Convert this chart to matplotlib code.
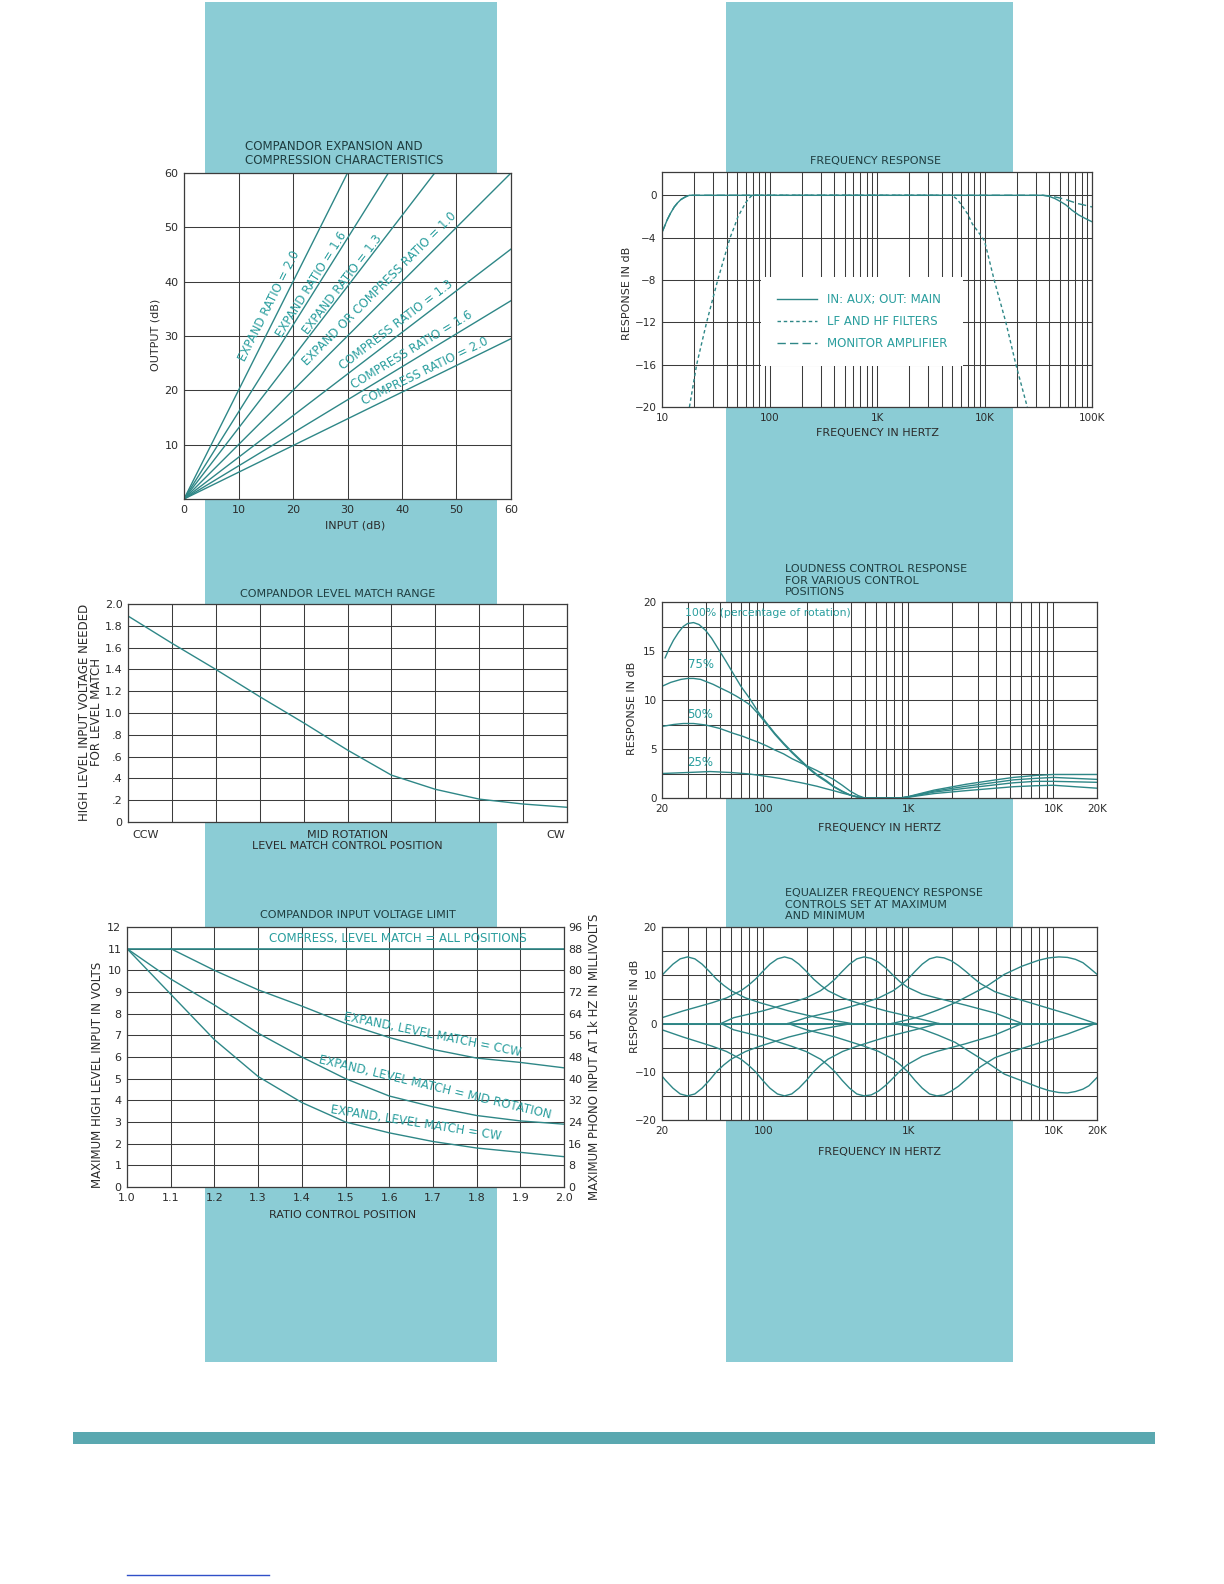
import numpy as np
import matplotlib
matplotlib.use("Agg")
import matplotlib.pyplot as plt
import matplotlib.ticker as mticker
from matplotlib.patches import Rectangle
from matplotlib.lines import Line2D

# ---------------- DATA ----------------
# Panel 1: compandor expansion / compression (end points of straight lines from origin)
p1_labels = ["EXPAND RATIO = 2.0", "EXPAND RATIO = 1.6", "EXPAND RATIO = 1.3",
             "EXPAND OR COMPRESS RATIO = 1.0", "COMPRESS RATIO = 1.3",
             "COMPRESS RATIO = 1.6", "COMPRESS RATIO = 2.0"]
p1_end_in = [30, 37.5, 46, 60, 60, 60, 60]
p1_end_out = [60, 60, 60, 60, 46, 36.5, 29.5]
p1_ticks = [0, 10, 20, 30, 40, 50, 60]

# Panel 2: frequency response
p2_main_f = [10, 10.5, 11.2, 12, 13, 14, 15, 16.5, 18, 35000, 40000, 45000, 50000, 57000, 65000, 75000, 87000, 100000]
p2_main_g = [-3.5, -3.0, -2.3, -1.7, -1.1, -0.7, -0.4, -0.15, 0.0, 0.0, -0.1, -0.3, -0.55, -0.9, -1.4, -1.85, -2.2, -2.5]
p2_filt_f = [18, 21, 26, 33, 43, 47, 51, 55, 60, 65, 69, 5000, 5600, 6200, 7000, 7700, 8800, 10000, 11000, 12300, 15800, 19600, 25000]
p2_filt_g = [-20, -16, -12, -8, -4, -3, -2, -1.4, -0.7, -0.25, 0, 0, -0.4, -1.0, -1.8, -2.7, -3.5, -4.3, -6.0, -8, -12, -16, -20]
p2_mon_f = [10, 10.5, 11.2, 12, 13, 14, 15, 16.5, 18, 35000, 40000, 45000, 50000, 57000, 65000, 75000, 87000, 100000]
p2_mon_g = [-3.5, -3.0, -2.3, -1.7, -1.1, -0.7, -0.4, -0.15, 0.0, 0.0, -0.05, -0.15, -0.25, -0.4, -0.6, -0.8, -0.95, -1.1]
p2_legend = ["IN: AUX; OUT: MAIN", "LF AND HF FILTERS", "MONITOR AMPLIFIER"]
p2_xticks = [10, 100, 1000, 10000, 100000]
p2_xticklabels = ["10", "100", "1K", "10K", "100K"]
p2_yticks = [0, -4, -8, -12, -16, -20]
p2_yticklabels = ["0", "\u22124", "\u22128", "\u221212", "\u221216", "\u221220"]

# Panel 3: level match range
p3_pos = [0, 1, 2, 3, 4, 5, 6, 7, 8, 9, 10]
p3_volt = [1.89, 1.64, 1.40, 1.15, 0.91, 0.66, 0.43, 0.30, 0.21, 0.165, 0.135]
p3_cat_labels = ["CCW", "MID ROTATION", "CW"]
p3_cat_pos = [0.4, 5, 9.75]
p3_yticks = [0, 0.2, 0.4, 0.6, 0.8, 1.0, 1.2, 1.4, 1.6, 1.8, 2.0]
p3_yticklabels = ["0", ".2", ".4", ".6", ".8", "1.0", "1.2", "1.4", "1.6", "1.8", "2.0"]

# Panel 4: loudness control response
p4_f100 = [21, 22.5, 24, 26, 28, 30, 33, 36, 40, 44, 48, 55, 62, 70, 81, 92, 106, 120, 138, 158, 180, 205, 234, 270, 305, 350, 397, 450, 500, 880, 1000, 1500, 2500, 4000, 5300, 7500, 10000, 20000]
p4_g100 = [14.3, 15.3, 16.1, 16.9, 17.5, 17.8, 17.9, 17.7, 17.1, 16.3, 15.4, 14.0, 12.7, 11.4, 10.1, 8.8, 7.6, 6.6, 5.6, 4.7, 3.9, 3.1, 2.4, 1.8, 1.2, 0.7, 0.3, 0.08, 0, 0, 0.15, 0.8, 1.4, 1.85, 2.1, 2.3, 2.4, 2.4]
p4_f75 = [20, 23, 27, 30, 33, 37, 40, 45, 51, 58, 65, 72, 81, 92, 106, 120, 138, 158, 180, 205, 234, 270, 305, 350, 397, 450, 500, 880, 1000, 1500, 2500, 4000, 5300, 7500, 10000, 20000]
p4_g75 = [11.4, 11.8, 12.1, 12.2, 12.2, 12.1, 11.9, 11.6, 11.2, 10.8, 10.4, 10.0, 9.5, 8.6, 7.5, 6.5, 5.5, 4.6, 3.8, 3.0, 2.3, 1.7, 1.15, 0.65, 0.3, 0.08, 0, 0, 0.12, 0.7, 1.2, 1.6, 1.85, 2.0, 2.1, 1.9]
p4_f50 = [20, 24, 28, 33, 40, 50, 62, 72, 81, 92, 106, 120, 138, 158, 180, 205, 234, 270, 305, 350, 397, 450, 500, 880, 1000, 1500, 2500, 4000, 5300, 7500, 10000, 20000]
p4_g50 = [7.3, 7.5, 7.6, 7.6, 7.45, 7.1, 6.6, 6.3, 6.0, 5.7, 5.3, 4.9, 4.5, 4.0, 3.6, 3.2, 2.8, 2.3, 1.9, 1.3, 0.7, 0.25, 0, 0, 0.1, 0.6, 1.0, 1.35, 1.55, 1.7, 1.7, 1.6]
p4_f25 = [20, 30, 43, 60, 80, 106, 130, 150, 190, 234, 270, 305, 350, 397, 450, 500, 880, 1000, 1500, 2500, 4000, 5300, 7500, 10000, 20000]
p4_g25 = [2.5, 2.6, 2.7, 2.6, 2.45, 2.2, 2.0, 1.8, 1.5, 1.2, 0.95, 0.75, 0.5, 0.3, 0.1, 0, 0, 0.08, 0.45, 0.75, 1.0, 1.15, 1.25, 1.3, 1.0]
p4_curve_labels = ["100% (percentage of rotation)", "75%", "50%", "25%"]
p4_xticks = [20, 100, 1000, 10000, 20000]
p4_xticklabels = ["20", "100", "1K", "10K", "20K"]

# Panel 5: compandor input voltage limit
p5_x = [1.0, 1.1, 1.2, 1.3, 1.4, 1.5, 1.6, 1.7, 1.8, 1.9, 2.0]
p5_compress = [11, 11, 11, 11, 11, 11, 11, 11, 11, 11, 11]
p5_ccw_x = [1.1, 1.2, 1.3, 1.4, 1.5, 1.6, 1.7, 1.8, 1.9, 2.0]
p5_ccw = [11.0, 10.0, 9.1, 8.35, 7.55, 6.9, 6.35, 5.95, 5.75, 5.5]
p5_mid = [11.0, 9.6, 8.4, 7.1, 6.0, 5.0, 4.2, 3.7, 3.3, 3.05, 2.9]
p5_cw = [11.0, 8.9, 6.8, 5.1, 3.9, 3.0, 2.5, 2.1, 1.8, 1.6, 1.4]
p5_labels = ["COMPRESS, LEVEL MATCH = ALL POSITIONS", "EXPAND, LEVEL MATCH = CCW",
             "EXPAND, LEVEL MATCH = MID ROTATION", "EXPAND, LEVEL MATCH = CW"]
p5_xticklabels = ["1.0", "1.1", "1.2", "1.3", "1.4", "1.5", "1.6", "1.7", "1.8", "1.9", "2.0"]
p5_right_ticks = [0, 8, 16, 24, 32, 40, 48, 56, 64, 72, 80, 88, 96]

# Panel 6: equalizer response (boost and cut per band)
p6_b1_f = [20, 21.2, 23.8, 26.7, 30, 33.7, 37.8, 42.4, 47.5, 53.3, 59.9, 75.4, 94.9, 150, 238, 406]
p6_b1_up = [10.0, 10.8, 12.3, 13.4, 13.8, 13.4, 12.3, 10.8, 9.2, 7.9, 6.8, 5.3, 4.3, 2.6, 1.2, 0]
p6_b1_dn = [-10.9, -11.8, -13.4, -14.6, -15.0, -14.6, -13.4, -11.8, -10.0, -8.6, -7.4, -5.8, -4.7, -2.8, -1.3, 0]
p6_b2_f = [20, 27.9, 44.3, 55.7, 70.1, 78.7, 88.3, 99.1, 111, 125, 140, 157, 176, 198, 222, 249, 279, 352, 443, 702, 1112, 1620]
p6_b2_up = [1.2, 2.6, 4.3, 5.3, 6.8, 7.9, 9.2, 10.8, 12.3, 13.4, 13.8, 13.4, 12.3, 10.8, 9.2, 7.9, 6.8, 5.3, 4.3, 2.6, 1.2, 0]
p6_b2_dn = [-1.3, -2.8, -4.7, -5.8, -7.4, -8.6, -10.0, -11.8, -13.4, -14.6, -15.0, -14.6, -13.4, -11.8, -10.0, -8.6, -7.4, -5.8, -4.7, -2.8, -1.3, 0]
p6_b3_f = [51, 62.4, 98.8, 156, 197, 248, 278, 312, 350, 393, 441, 495, 555, 623, 699, 785, 880, 988, 1243, 1565, 2481, 3932, 6100]
p6_b3_up = [0, 1.2, 2.6, 4.3, 5.3, 6.8, 7.9, 9.2, 10.8, 12.3, 13.4, 13.8, 13.5, 12.7, 11.5, 10.0, 8.6, 7.5, 6.1, 5.3, 3.8, 2.2, 0]
p6_b3_dn = [0, -1.3, -2.8, -4.7, -5.8, -7.4, -8.6, -10.0, -11.8, -13.4, -14.6, -15.0, -14.8, -14.0, -12.8, -11.3, -9.8, -8.5, -6.8, -5.8, -4.2, -2.4, 0]
p6_b4_f = [148, 198, 313, 496, 625, 787, 883, 991, 1112, 1247, 1399, 1570, 1762, 1977, 2218, 2488, 2792, 3132, 3944, 4965, 7869, 12470, 19600]
p6_b4_up = [0, 1.2, 2.6, 4.3, 5.3, 6.8, 7.9, 9.2, 10.8, 12.3, 13.4, 13.8, 13.6, 13.0, 12.0, 10.8, 9.5, 8.3, 6.6, 5.6, 3.8, 2.0, 0]
p6_b4_dn = [0, -1.3, -2.8, -4.7, -5.8, -7.4, -8.6, -10.0, -11.8, -13.4, -14.6, -15.0, -14.8, -14.0, -13.0, -11.7, -10.3, -9.0, -7.1, -6.0, -4.1, -2.2, 0]
p6_b5_f = [772, 1000, 1250, 1600, 2100, 2700, 3500, 4600, 6100, 7900, 9300, 10900, 12500, 14200, 16000, 17600, 20000]
p6_b5_up = [0, 0.8, 1.6, 2.8, 4.3, 6.0, 7.8, 10.2, 11.9, 13.1, 13.6, 13.8, 13.7, 13.3, 12.6, 11.6, 10.2]
p6_b5_dn = [0, -0.5, -1.2, -2.4, -3.9, -6.0, -8.1, -10.5, -11.9, -13.2, -13.9, -14.3, -14.4, -14.1, -13.6, -12.9, -11.2]
p6_yticks = [-20, -10, 0, 10, 20]
p6_yticklabels = ["\u221220", "\u221210", "0", "10", "20"]

# ---------------- STYLE ----------------
W, H = 1224, 1584
plt.rcParams["font.family"] = ["Liberation Sans Narrow", "DejaVu Sans"]
STRIP = "#8bccd5"
BAR = "#5aa8b0"
GRID = "#3c3c3c"
CURVE = "#2e8787"
TEAL_TXT = "#2a9e9e"
DARK_TXT = "#1f3d40"
TICK_TXT = "#2b2b2b"

fig = plt.figure(figsize=(W / 100, H / 100), dpi=100)
fig.patch.set_facecolor("white")


def axrect(l, t, r, b):
    return [l / W, 1 - b / H, (r - l) / W, (b - t) / H]


def ftext(x, y, s, **kw):
    kw.setdefault("ha", "center")
    kw.setdefault("va", "center")
    kw.setdefault("fontsize", 8)
    kw.setdefault("color", DARK_TXT)
    return fig.text(x / W, 1 - y / H, s, **kw)


def style(ax, labelsize=8):
    ax.set_facecolor("white")
    for s in ax.spines.values():
        s.set_color(GRID)
        s.set_linewidth(0.9)
    ax.tick_params(which="both", length=0, labelsize=labelsize, colors=TICK_TXT, pad=4)
    ax.grid(True, which="both", color=GRID, lw=0.75)
    ax.set_axisbelow(True)


def disp_angle(ax, x0, y0, x1, y1):
    p0 = ax.transData.transform((x0, y0))
    p1 = ax.transData.transform((x1, y1))
    return np.degrees(np.arctan2(p1[1] - p0[1], p1[0] - p0[0]))


def log_x(ax, lo, hi, ticks, labels):
    ax.set_xscale("log")
    ax.set_xlim(lo, hi)
    ax.set_xticks(ticks)
    ax.set_xticklabels(labels)
    ax.xaxis.set_minor_locator(mticker.LogLocator(base=10, subs=np.arange(2, 10)))
    ax.xaxis.set_minor_formatter(mticker.NullFormatter())


# background strips and bars
for (l, t, r, b) in [(205, 2, 497, 1362), (726, 2, 1013, 1362)]:
    fig.patches.append(Rectangle((l / W, 1 - b / H), (r - l) / W, (b - t) / H,
                                 transform=fig.transFigure, facecolor=STRIP,
                                 edgecolor="none", zorder=-10))
fig.patches.append(Rectangle((73 / W, 1 - 1444 / H), (1155 - 73) / W, 12 / H,
                             transform=fig.transFigure, facecolor=BAR,
                             edgecolor="none", zorder=-10))
fig.lines.append(Line2D([127 / W, 269 / W], [1 - 1575 / H, 1 - 1575 / H],
                        transform=fig.transFigure, color="#3050c8", lw=1.0))

# ---------------- PANEL 1 ----------------
ax1 = fig.add_axes(axrect(184, 173, 511, 499))
style(ax1, 8)
ax1.set_xlim(0, 60)
ax1.set_ylim(0, 60)
ax1.set_xticks(p1_ticks)
ax1.set_yticks(p1_ticks[1:])
for ei, eo in zip(p1_end_in, p1_end_out):
    ax1.plot([0, ei], [0, eo], color=CURVE, lw=1.0)
p1_lab_xy = [(15.7, 35.5), (23.4, 39.4), (29.1, 39.4), (35.8, 38.6),
             (38.9, 32.0), (41.8, 27.4), (44.2, 23.6)]
for lab, (x, y), ei, eo in zip(p1_labels, p1_lab_xy, p1_end_in, p1_end_out):
    ang = disp_angle(ax1, 0, 0, ei, eo)
    ax1.text(x, y, lab, rotation=ang, rotation_mode="anchor", ha="center", va="center",
             color=TEAL_TXT, fontsize=8.5)
ftext(245, 146, "COMPANDOR EXPANSION AND", ha="left", fontsize=8.5)
ftext(245, 160, "COMPRESSION CHARACTERISTICS", ha="left", fontsize=8.5)
ftext(155, 335, "OUTPUT (dB)", rotation=90, color=TICK_TXT)
ftext(355, 525, "INPUT (dB)", color=TICK_TXT)

# ---------------- PANEL 2 ----------------
ax2 = fig.add_axes(axrect(662, 172, 1092, 407))
log_x(ax2, 10, 100000, p2_xticks, p2_xticklabels)
style(ax2, 7.5)
ax2.set_ylim(-20, 2.2)
ax2.set_yticks(p2_yticks)
ax2.set_yticklabels(p2_yticklabels)
l_main, = ax2.plot(p2_main_f, p2_main_g, color=CURVE, lw=1.0)
l_mon, = ax2.plot(p2_mon_f, p2_mon_g, color=CURVE, lw=1.0, dashes=(6, 3))
l_filt, = ax2.plot(p2_filt_f, p2_filt_g, color=CURVE, lw=1.0, dashes=(2.5, 2))
leg = ax2.legend([l_main, l_filt, l_mon], p2_legend, loc="center",
                 bbox_to_anchor=(0.465, 0.364), frameon=True, facecolor="white",
                 edgecolor="none", framealpha=1, fontsize=8.5, labelcolor=TEAL_TXT,
                 handlelength=3.4, borderpad=1.35, labelspacing=0.75, fancybox=False)
ftext(876, 161, "FREQUENCY RESPONSE")
ftext(627, 293, "RESPONSE IN dB", rotation=90, color=TICK_TXT)
ftext(877, 433, "FREQUENCY IN HERTZ", color=TICK_TXT)

# ---------------- PANEL 3 ----------------
ax3 = fig.add_axes(axrect(128, 604, 567, 822))
style(ax3, 8)
ax3.grid(False, which="minor")
ax3.xaxis.remove_overlapping_locs = False
ax3.set_xlim(0, 10)
ax3.set_ylim(0, 2.0)
ax3.set_xticks(p3_pos)
ax3.set_xticklabels([])
ax3.set_xticks(p3_cat_pos, minor=True)
ax3.set_xticklabels(p3_cat_labels, minor=True)
ax3.set_yticks(p3_yticks)
ax3.set_yticklabels(p3_yticklabels)
ax3.tick_params(axis="x", which="minor", pad=6)
ax3.plot(p3_pos, p3_volt, color=CURVE, lw=1.0)
ftext(338, 594, "COMPANDOR LEVEL MATCH RANGE")
ftext(347, 846, "LEVEL MATCH CONTROL POSITION", color=TICK_TXT)
ftext(85, 712, "HIGH LEVEL INPUT VOLTAGE NEEDED", rotation=90, color=TICK_TXT, fontsize=8.5)
ftext(97, 712, "FOR LEVEL MATCH", rotation=90, color=TICK_TXT, fontsize=8.5)

# ---------------- PANEL 4 ----------------
ax4 = fig.add_axes(axrect(662, 602, 1097, 798))
log_x(ax4, 20, 20000, p4_xticks, p4_xticklabels)
style(ax4, 7.5)
ax4.set_ylim(0, 20)
ax4.set_yticks([0, 5, 10, 15, 20])
ax4.yaxis.set_minor_locator(mticker.MultipleLocator(2.5))
for f, g in [(p4_f100, p4_g100), (p4_f75, p4_g75), (p4_f50, p4_g50), (p4_f25, p4_g25)]:
    ax4.plot(f, g, color=CURVE, lw=1.0)
for lab, (x, y), fs in zip(p4_curve_labels, [(29, 18.9), (30, 13.6), (30, 8.5), (30, 3.6)],
                           [7.8, 8.5, 8.5, 8.5]):
    ax4.text(x, y, lab, ha="left", va="center", color=TEAL_TXT, fontsize=fs)
ftext(785, 569, "LOUDNESS CONTROL RESPONSE", ha="left")
ftext(785, 581, "FOR VARIOUS CONTROL", ha="left")
ftext(785, 592, "POSITIONS", ha="left")
ftext(632, 708, "RESPONSE IN dB", rotation=90, color=TICK_TXT)
ftext(880, 828, "FREQUENCY IN HERTZ", color=TICK_TXT)

# ---------------- PANEL 5 ----------------
ax5 = fig.add_axes(axrect(127, 927, 564, 1187))
style(ax5, 8)
ax5.set_xlim(1.0, 2.0)
ax5.set_ylim(0, 12)
ax5.set_xticks(p5_x)
ax5.set_xticklabels(p5_xticklabels)
ax5.set_yticks(range(0, 13))
ax5.plot(p5_x, p5_compress, color=CURVE, lw=1.2)
ax5.plot(p5_ccw_x, p5_ccw, color=CURVE, lw=1.0)
ax5.plot(p5_x, p5_mid, color=CURVE, lw=1.0)
ax5.plot(p5_x, p5_cw, color=CURVE, lw=1.0)
ax5r = ax5.twinx()
ax5r.set_ylim(0, 96)
ax5r.set_yticks(p5_right_ticks)
ax5r.tick_params(length=0, labelsize=8, colors=TICK_TXT, pad=3)
for s in ax5r.spines.values():
    s.set_visible(False)
p5_lab_pos = [(1.62, 11.45, (1.33, 11.45, 1.9, 11.45)),
              (1.70, 7.05, (1.495, 7.87, 1.907, 6.17)),
              (1.705, 4.6, (1.434, 5.86, 1.976, 3.24)),
              (1.66, 2.95, (1.465, 3.55, 1.854, 2.31))]
for lab, (x, y, seg) in zip(p5_labels, p5_lab_pos):
    ang = disp_angle(ax5, *seg)
    ax5.text(x, y, lab, rotation=ang, rotation_mode="anchor", ha="center", va="center",
             color=TEAL_TXT, fontsize=8.5)
ftext(358, 915, "COMPANDOR INPUT VOLTAGE LIMIT")
ftext(343, 1215, "RATIO CONTROL POSITION", color=TICK_TXT)
ftext(98, 1075, "MAXIMUM HIGH LEVEL INPUT IN VOLTS", rotation=90, color=TICK_TXT, fontsize=8.5)
ftext(595, 1057, "MAXIMUM PHONO INPUT AT 1k HZ IN MILLIVOLTS", rotation=90, color=TICK_TXT, fontsize=8.5)

# ---------------- PANEL 6 ----------------
ax6 = fig.add_axes(axrect(662, 927, 1097, 1120))
log_x(ax6, 20, 20000, p4_xticks, p4_xticklabels)
style(ax6, 7.5)
ax6.set_ylim(-20, 20)
ax6.set_yticks(p6_yticks)
ax6.set_yticklabels(p6_yticklabels)
ax6.yaxis.set_minor_locator(mticker.MultipleLocator(5))
for f, up, dn in [(p6_b1_f, p6_b1_up, p6_b1_dn), (p6_b2_f, p6_b2_up, p6_b2_dn),
                  (p6_b3_f, p6_b3_up, p6_b3_dn), (p6_b4_f, p6_b4_up, p6_b4_dn),
                  (p6_b5_f, p6_b5_up, p6_b5_dn)]:
    ax6.plot(f, up, color=CURVE, lw=1.0)
    ax6.plot(f, dn, color=CURVE, lw=1.0)
ax6.axhline(0, color=CURVE, lw=1.4)
ftext(785, 893, "EQUALIZER FREQUENCY RESPONSE", ha="left")
ftext(785, 904.5, "CONTROLS SET AT MAXIMUM", ha="left")
ftext(785, 916, "AND MINIMUM", ha="left")
ftext(635, 1006, "RESPONSE IN dB", rotation=90, color=TICK_TXT)
ftext(880, 1152, "FREQUENCY IN HERTZ", color=TICK_TXT)

fig.savefig("out.png", dpi=100, facecolor="white")
